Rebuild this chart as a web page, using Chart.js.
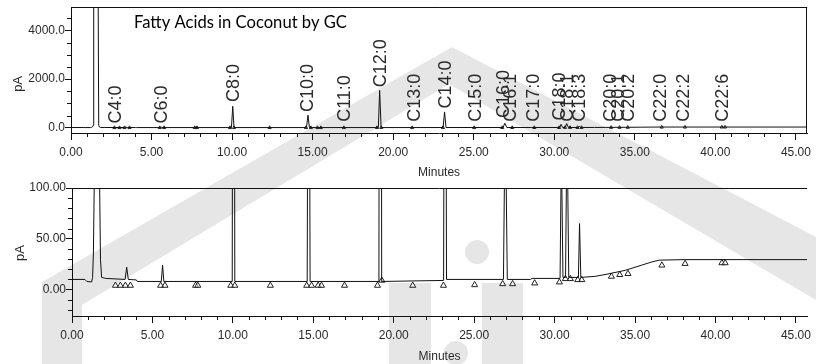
<!DOCTYPE html>
<html>
<head>
<meta charset="utf-8">
<title>Fatty Acids in Coconut by GC</title>
<script src="https://cdn.jsdelivr.net/npm/chart.js@4.4.1/dist/chart.umd.min.js"></script>
<style>
  body { margin: 0; background: #fff; }
  #wrap { position: relative; width: 816px; height: 364px; overflow: hidden; }
  #wm { position: absolute; left: 0; top: 0; }
  canvas { position: absolute; left: 0; }
  #top { top: 0; }
  #bottom { top: 180px; }
</style>
</head>
<body>
<div id="wrap">
  <!-- faint watermark behind the traces -->
  <svg id="wm" width="816" height="364">
    <g fill="#e6e6e6">
      <polygon points="42,364 42,282 452,47 816,237 816,300 449,84 82,305 82,364"/>
      <rect x="389" y="283" width="42" height="81"/>
      <rect x="482" y="283" width="41" height="81"/>
      <circle cx="477" cy="252" r="12"/>
      <circle cx="456" cy="353" r="12"/>
    </g>
  </svg>
  <canvas id="top" width="816" height="180"></canvas>
  <canvas id="bottom" width="816" height="184"></canvas>
</div>

<script>
// ----------------------- Data ----------------------------------
// detector trace: retention time (min) and signal (pA)
const signalTimes = [
  0.00, 0.80, 0.92, 1.22, 1.28, 1.33, 1.38, 1.41, 1.50, 1.58, 1.67, 1.72, 1.77, 1.84, 2.10,
  3.30, 3.40, 3.50, 4.00, 4.06, 5.55, 5.63, 5.71, 9.96, 10.04, 10.12,
  14.62, 14.71, 14.80, 19.08, 19.16, 19.25, 23.10, 23.19, 23.28,
  26.82, 26.93, 27.06, 28.50, 28.60, 30.34, 30.42, 30.52, 30.68, 30.77, 30.88,
  31.48, 31.55, 31.63, 32.50, 33.20, 34.40, 35.40, 36.00, 36.50, 38.10, 45.70
];
const signalValues = [
  10, 10, 8, 7.5, 12, 35, 100, 8000, 60000, 60000, 8000, 100, 30, 12, 11,
  10, 22, 10, 9.5, 8, 8, 24, 8, 8, 882, 8,
  8, 516, 8, 8, 1532, 8, 9, 650, 10,
  10, 185, 10, 10, 11, 11, 140, 12, 12, 170, 12,
  12, 65, 12, 13, 15, 19, 24, 27, 29, 29.5, 29.5
];

// integration marks (triangles) at peak starts / ends
const markerTimes = [
  2.70, 3.01, 3.32, 3.63, 5.51, 5.78, 7.68, 7.82, 9.87, 10.12, 12.33, 14.59, 14.89, 15.30, 15.51,
  16.94, 18.99, 19.26, 21.18, 23.09, 25.03, 26.77, 27.39, 28.76, 30.30, 30.67, 30.98, 31.44, 31.69,
  33.53, 34.05, 34.56, 36.67, 38.11, 40.40, 40.60
];
const markerValues = [
  4, 4, 4, 4, 4, 4, 4, 4, 4, 4, 4, 4, 4, 4, 4,
  4, 4, 9, 4, 4, 4.6, 5.6, 5.6, 6.3, 7.3, 10.6, 10.6, 9.6, 9.6,
  12.9, 14.6, 15.6, 23.9, 25.5, 26.2, 26.2
];

// peak names written above the full-scale trace
const peakNames = ['C4:0', 'C6:0', 'C8:0', 'C10:0', 'C11:0', 'C12:0', 'C13:0', 'C14:0', 'C15:0',
  'C16:0', 'C16:1', 'C17:0', 'C18:0', 'C18:1', 'C18:3', 'C20:0', 'C20:1', 'C20:2', 'C22:0', 'C22:2', 'C22:6'];
const peakLabelTimes = [2.70, 5.57, 10.02, 14.63, 16.90, 19.16, 21.25, 23.19, 25.03,
  26.78, 27.23, 28.62, 30.26, 30.77, 31.49, 33.44, 33.93, 34.56, 36.51, 37.94, 40.40];
const peakLabelBase = [179, 179, 1057, 650, 244, 1667, 244, 789, 244,
  400, 244, 244, 300, 244, 244, 244, 244, 244, 244, 244, 244];

// axis ticks
const timeTicks = [0, 5, 10, 15, 20, 25, 30, 35, 40, 45];
const topYTicks = [0, 2000, 4000];
const bottomYTicks = [0, 50, 100];

const chartTitle = 'Fatty Acids in Coconut by GC';

// ----------------------- Styles ----------------------------------
const sans = "'Liberation Sans', Arial, Helvetica, sans-serif";
const tickFont = { family: sans, size: 12 };
const ink = '#2a2a2a';

// ----------------------- Plugins ----------------------------------
// minor ticks on both axes
const minorTicks = {
  id: 'minorTicks',
  afterDraw(chart, args, opts) {
    const { ctx, chartArea, scales: { x, y } } = chart;
    ctx.save();
    ctx.strokeStyle = '#111';
    ctx.lineWidth = 1;
    ctx.beginPath();
    for (let t = Math.ceil(x.min); t <= x.max; t++) {
      if (t % 5 === 0) continue;
      const px = Math.round(x.getPixelForValue(t)) + 0.5;
      ctx.moveTo(px, chartArea.bottom);
      ctx.lineTo(px, chartArea.bottom + 4);
    }
    const step = opts.yStep;
    for (let v = Math.ceil(y.min / step) * step; v <= y.max; v += step) {
      if (opts.yMajor.includes(v)) continue;
      const py = Math.round(y.getPixelForValue(v)) + 0.5;
      ctx.moveTo(chartArea.left - 4, py);
      ctx.lineTo(chartArea.left, py);
    }
    ctx.stroke();
    ctx.restore();
  }
};

// frame lines on top (and right)
const frame = {
  id: 'frame',
  afterDraw(chart, args, opts) {
    const { ctx, chartArea: a } = chart;
    ctx.save();
    ctx.strokeStyle = '#111';
    ctx.lineWidth = 1;
    ctx.beginPath();
    ctx.moveTo(a.left, Math.round(a.top) + 0.5);
    ctx.lineTo(a.right, Math.round(a.top) + 0.5);
    if (opts.right) {
      ctx.moveTo(Math.round(a.right) - 0.5, a.top);
      ctx.lineTo(Math.round(a.right) - 0.5, a.bottom);
    }
    ctx.stroke();
    ctx.restore();
  }
};

// "pA" unit and the optional title
const texts = {
  id: 'texts',
  afterDraw(chart, args, opts) {
    const { ctx, scales: { y } } = chart;
    ctx.save();
    ctx.fillStyle = ink;
    ctx.font = '13px ' + sans;
    ctx.textAlign = 'center';
    ctx.textBaseline = 'middle';
    ctx.translate(opts.unitX, y.getPixelForValue(opts.unitAt));
    ctx.rotate(-Math.PI / 2);
    ctx.fillText('pA', 0, 0);
    ctx.restore();
    if (opts.title) {
      ctx.save();
      ctx.fillStyle = '#000';
      ctx.font = "16.6px Lato, 'Open Sans', sans-serif";
      ctx.textAlign = 'left';
      ctx.textBaseline = 'alphabetic';
      ctx.fillText(opts.title, 134, 28);
      ctx.restore();
    }
  }
};

// vertical peak names
const peakLabels = {
  id: 'peakLabels',
  afterDatasetsDraw(chart, args, opts) {
    if (!opts.show) return;
    const { ctx, scales: { x, y } } = chart;
    const size = 18;
    ctx.save();
    ctx.font = size + 'px ' + sans;
    ctx.fillStyle = ink;
    ctx.textAlign = 'left';
    ctx.textBaseline = 'alphabetic';
    peakNames.forEach((name, i) => {
      ctx.save();
      ctx.translate(x.getPixelForValue(peakLabelTimes[i]), y.getPixelForValue(peakLabelBase[i]));
      ctx.rotate(-Math.PI / 2);
      // centre the capitals on the retention time
      ctx.fillText(name, 0, size * 0.36);
      ctx.restore();
    });
    ctx.restore();
  }
};

// ----------------------- Chart builder ----------------------------------
function makeChart(canvasId, cfg) {
  const trace = signalTimes.map((t, i) => ({ x: t, y: signalValues[i] }));
  const marks = markerTimes.map((t, i) => ({ x: t, y: markerValues[i] }));

  return new Chart(document.getElementById(canvasId), {
    type: 'line',
    data: {
      datasets: [
        {
          data: trace,
          borderColor: '#111',
          borderWidth: 1,
          pointRadius: 0,
          tension: 0
        },
        {
          data: marks,
          showLine: false,
          pointStyle: 'triangle',
          pointRadius: cfg.markerRadius,
          pointBorderWidth: 1,
          pointBorderColor: '#222',
          pointBackgroundColor: 'rgba(255,255,255,0.5)'
        }
      ]
    },
    options: {
      responsive: false,
      animation: false,
      devicePixelRatio: 1,
      layout: { padding: cfg.padding },
      plugins: {
        legend: { display: false },
        tooltip: { enabled: false },
        minorTicks: { yStep: cfg.yMinor, yMajor: cfg.yTicks },
        frame: { right: cfg.rightBorder },
        texts: { unitX: cfg.unitX, unitAt: cfg.unitAt, title: cfg.title },
        peakLabels: { show: cfg.peakLabels }
      },
      scales: {
        x: {
          type: 'linear',
          min: 0,
          max: 45.7,
          afterBuildTicks: s => { s.ticks = timeTicks.map(v => ({ value: v })); },
          afterFit: s => { s.height = cfg.xHeight; },
          ticks: {
            autoSkip: false,
            maxRotation: 0,
            padding: 5,
            color: ink,
            font: tickFont,
            callback: v => v.toFixed(2)
          },
          grid: { drawOnChartArea: false, tickLength: 7, color: '#111' },
          border: { color: '#111', width: 1 },
          title: {
            display: true,
            text: 'Minutes',
            color: ink,
            font: tickFont,
            padding: { top: 0, bottom: 0 }
          }
        },
        y: {
          type: 'linear',
          min: cfg.yMin,
          max: cfg.yMax,
          afterBuildTicks: s => { s.ticks = cfg.yTicks.map(v => ({ value: v })); },
          afterFit: s => { s.width = cfg.yWidth; },
          ticks: {
            padding: 0,
            color: ink,
            font: tickFont,
            callback: v => v.toFixed(cfg.decimals)
          },
          grid: { drawOnChartArea: false, tickLength: 6, color: '#111' },
          border: { color: '#111', width: 1 }
        }
      }
    },
    plugins: [minorTicks, frame, texts, peakLabels]
  });
}

// full scale trace with peak names
makeChart('top', {
  yMin: -215, yMax: 4950, yTicks: topYTicks, yMinor: 500, decimals: 1,
  yWidth: 71, xHeight: 47, padding: { top: 6, right: 1, left: 0, bottom: 0 },
  rightBorder: true, markerRadius: 1.8,
  unitX: 18.5, unitAt: 1800, title: chartTitle, peakLabels: true
});

// zoomed trace, 0 - 100 pA
makeChart('bottom', {
  yMin: -26, yMax: 100, yTicks: bottomYTicks, yMinor: 10, decimals: 2,
  yWidth: 72, xHeight: 48, padding: { top: 8, right: 0, left: 0, bottom: 0 },
  rightBorder: false, markerRadius: 3.5,
  unitX: 20, unitAt: 36, title: null, peakLabels: false
});
</script>
</body>
</html>
